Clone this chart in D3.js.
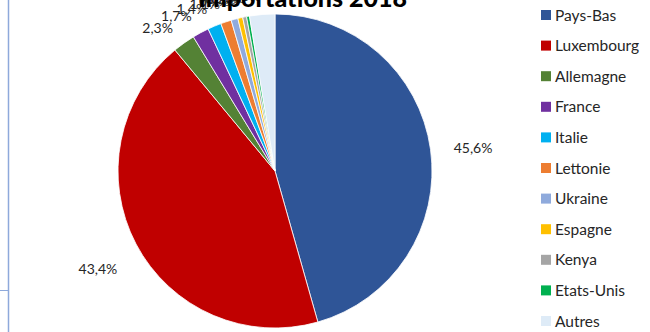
<!DOCTYPE html>
<html>
<head>
<meta charset="utf-8">
<script src="https://cdn.jsdelivr.net/npm/d3@7"></script>
<style>
  body { margin: 0; background: #fff; }
  svg { display: block; }
</style>
</head>
<body>
<svg id="chart" width="650" height="332"></svg>
<script>
// values (percent)
var countries = ["Pays-Bas", "Luxembourg", "Allemagne", "France", "Italie", "Lettonie",
                 "Ukraine", "Espagne", "Kenya", "Etats-Unis", "Autres"];
var shares = [45.6, 43.4, 2.3, 1.7, 1.4, 1.1, 0.7, 0.5, 0.4, 0.3, 2.6];
var colors = ["#2F5597", "#C00000", "#548235", "#7030A0", "#00B0F0", "#ED7D31",
              "#8FAADC", "#FFC000", "#A5A5A5", "#00B050", "#DEEBF7"];
var title = "Importations 2018";

var width = 650, height = 332
  , cx = 275, cy = 171, radius = 157
  , font = "Lato, 'Open Sans', sans-serif";

var data = countries.map(function(c, i) { return { name: c, value: shares[i] }; });

var svg = d3.select("#chart");

// sheet border left over in the screenshot
svg.append("line").attr("x1", 8.5).attr("x2", 8.5).attr("y1", 0).attr("y2", height)
  .attr("stroke", "#8EA9DB").attr("stroke-width", 1.5);
svg.append("line").attr("x1", 0).attr("x2", 8.5).attr("y1", 290.5).attr("y2", 290.5)
  .attr("stroke", "#8EA9DB").attr("stroke-width", 1);

var color = d3.scaleOrdinal().domain(countries).range(colors);

var pie = d3.pie().sort(null).value(function(d) { return d.value; });
var arc = d3.arc().innerRadius(0).outerRadius(radius);
var arcs = pie(data);

var g = svg.append("g").attr("transform", "translate(" + cx + "," + cy + ")");

g.selectAll("path")
  .data(arcs)
 .enter().append("path")
  .attr("d", arc)
  .attr("fill", function(d) { return color(d.data.name); })
  .attr("stroke", "#fff")
  .attr("stroke-width", 0.8);

// title (cut at the top of the picture)
svg.append("text")
  .attr("x", 407).attr("y", 7)
  .attr("text-anchor", "end")
  .attr("font-family", font)
  .attr("font-weight", "900")
  .attr("font-size", 25)
  .attr("fill", "#000")
  .text(title);

var fmt = function(v) { return d3.format(".1f")(v).replace(".", ",") + "%"; };

// data labels: big slices centred further out, small ones pinned to the edge
g.selectAll("text.lbl")
  .data(arcs)
 .enter().append("text")
  .attr("class", "lbl")
  .each(function(d) {
    var a = (d.startAngle + d.endAngle) / 2
      , big = d.data.value > 10
      , r = big ? 200 : radius + 19
      , x = Math.sin(a) * r
      , y = -Math.cos(a) * r;
    d3.select(this)
      .attr("x", x)
      .attr("y", y + (big ? 10 : 5))
      .attr("text-anchor", big ? "middle" : (x < 0 ? "end" : "start"));
  })
  .attr("font-family", font)
  .attr("font-size", 14)
  .attr("fill", "#262626")
  .text(function(d) { return fmt(d.data.value); });

// legend
var legendY = d3.scalePoint().domain(countries).range([15, 321]);

var leg = svg.append("g").selectAll("g")
  .data(countries)
 .enter().append("g")
  .attr("transform", function(d) { return "translate(541," + legendY(d) + ")"; });

leg.append("rect")
  .attr("x", 0).attr("y", -5)
  .attr("width", 10).attr("height", 10)
  .attr("fill", function(d) { return color(d); });

leg.append("text")
  .attr("x", 14).attr("y", 5.5)
  .attr("font-family", font)
  .attr("font-size", 15.5)
  .attr("fill", "#262626")
  .text(function(d) { return d; });
</script>
</body>
</html>
